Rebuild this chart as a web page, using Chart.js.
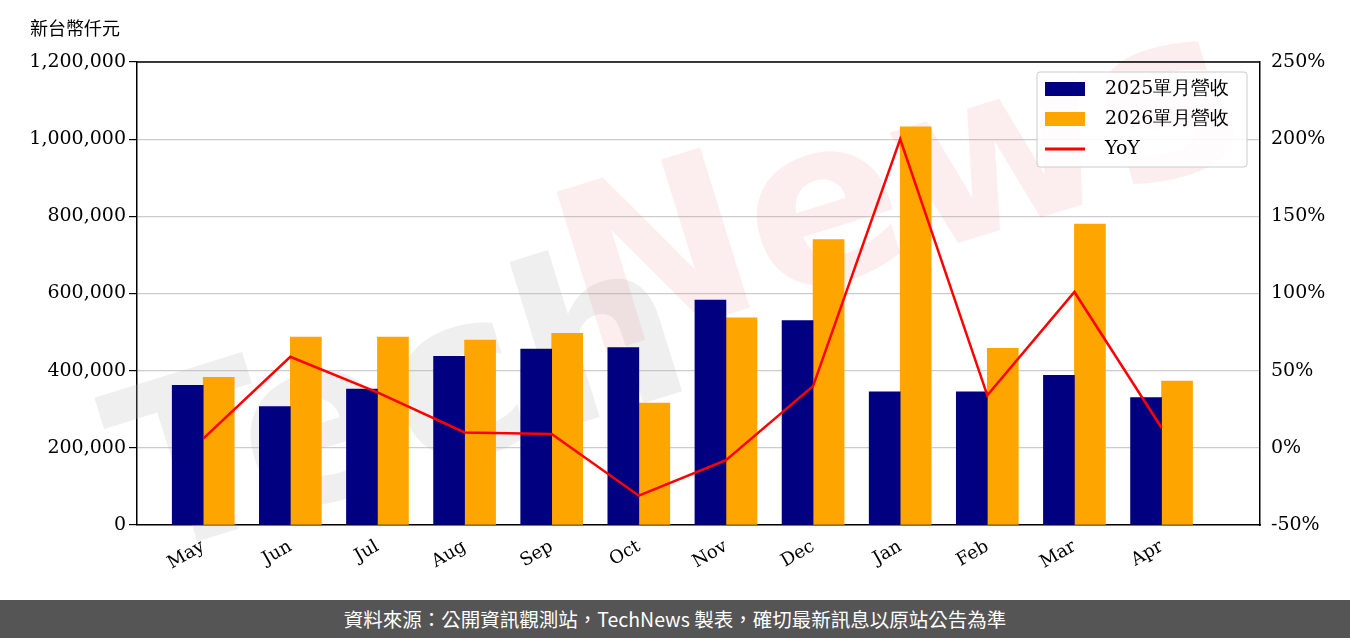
<!DOCTYPE html>
<html><head><meta charset="utf-8">
<script src="https://cdn.jsdelivr.net/npm/chart.js@4/dist/chart.umd.min.js"></script>
<style>
body{margin:0;width:1350px;height:638px;overflow:hidden;background:#fff;font-family:"Noto Sans CJK TC","Noto Sans",sans-serif}
#wrap{position:relative;width:1350px;height:600px}
#foot{position:absolute;left:0;top:600px;width:1350px;height:38px;background:#555;color:#fff;font-size:19.5px;line-height:38px;text-align:center}
#unit{position:absolute;left:30px;top:14px;font-size:18px;color:#000}
</style></head><body>
<div id="wrap"><canvas id="c" width="1350" height="600"></canvas><div id="unit">新台幣仟元</div></div>
<div id="foot">資料來源：公開資訊觀測站，TechNews 製表，確切最新訊息以原站公告為準</div>
<script>
const categories=["May","Jun","Jul","Aug","Sep","Oct","Nov","Dec","Jan","Feb","Mar","Apr"];
const rev2025=[362000,307000,352000,437000,456000,460000,583000,530000,345000,345000,388000,330000];
const rev2026=[383000,487000,487000,479000,497000,316000,537000,740000,1032000,458000,780000,373000];
const yoy=[6,59,36,10,9,-31,-8,40,200,34,101,13];
const serif='"DejaVu Serif",serif';
const pts=a=>a.map((v,i)=>({x:i,y:v}));
const legendPlugin={id:'lg',afterDraw(ch){const c=ch.ctx;const x=1037,y=72,w=210,h=95;
c.save();c.fillStyle='rgba(255,255,255,0.85)';c.strokeStyle='#ccc';c.lineWidth=1;c.beginPath();c.roundRect(x,y,w,h,3);c.fill();c.stroke();
const items=[["2025單月營收","#000080","bar"],["2026單月營收","#FFA500","bar"],["YoY","#FF0000","line"]];
c.font='19px '+serif;c.textBaseline='middle';
items.forEach((it,i)=>{const yy=y+17+i*30;if(it[2]=='bar'){c.fillStyle=it[1];c.fillRect(x+8,yy-7,40,14);}else{c.strokeStyle=it[1];c.lineWidth=3;c.beginPath();c.moveTo(x+8,yy);c.lineTo(x+48,yy);c.stroke();}
c.fillStyle='#000';c.fillText(it[0],x+68,yy);});
const a=ch.chartArea;c.strokeStyle='#000';c.lineWidth=1.5;c.beginPath();c.moveTo(a.left,a.top);c.lineTo(a.right,a.top);c.stroke();c.restore();}};
const wmPlugin={id:'wm',beforeDatasetsDraw(ch){const c=ch.ctx;c.save();c.translate(640,300);c.rotate(-0.3);c.font='bold 230px "DejaVu Sans",sans-serif';c.textAlign='center';c.textBaseline='middle';
c.fillStyle='rgba(180,180,180,0.22)';c.fillText('Tech',-260,40);c.fillStyle='rgba(230,120,120,0.13)';c.fillText('News',280,-20);c.restore();}};
new Chart(document.getElementById('c'),{
data:{labels:categories,datasets:[
{type:'line',label:'YoY',data:pts(yoy),yAxisID:'y1',borderColor:'#FF0000',borderWidth:2.5,pointRadius:0,tension:0,order:0},
{type:'bar',label:'2025單月營收',data:pts(rev2025),yAxisID:'y',backgroundColor:'#000080',barThickness:31,order:1},
{type:'bar',label:'2026單月營收',data:pts(rev2026),yAxisID:'y',backgroundColor:'#FFA500',barThickness:31,order:1}]},
options:{responsive:false,animation:false,layout:{padding:{top:62,left:0,right:0,bottom:0}},
plugins:{legend:{display:false},tooltip:{enabled:false}},
scales:{
x:{type:'linear',min:-0.76,max:12.13,offset:false,grid:{display:false},border:{color:'#000',width:1.5},
 afterBuildTicks(s){s.ticks=categories.map((c,i)=>({value:i}));},
 ticks:{color:'#000',font:{family:serif,size:18},maxRotation:30,minRotation:30,callback:v=>categories[v]},afterFit(s){s.height=75;}},
y:{min:0,max:1200000,ticks:{stepSize:200000,color:'#000',font:{family:serif,size:19},callback:v=>v.toLocaleString('en-US')},grid:{color:'#ccc',lineWidth:1.2,tickColor:'#000'},border:{color:'#000',width:1.5},afterFit(s){s.width=137;}},
y1:{position:'right',min:-50,max:250,ticks:{stepSize:50,color:'#000',font:{family:serif,size:19},callback:v=>v+'%'},grid:{display:false},border:{color:'#000',width:1.5},afterFit(s){s.width=90;}}
}},plugins:[wmPlugin,legendPlugin]});
</script></body></html>
